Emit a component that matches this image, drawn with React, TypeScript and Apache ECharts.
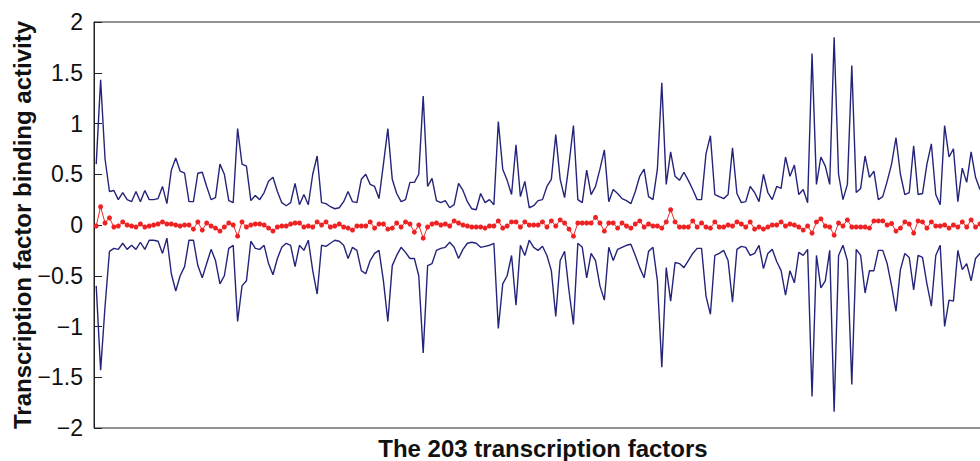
import React, { useEffect, useRef } from "react";
import * as echarts from "echarts";

// Upper envelope (blue), factor 1..203
const upperValues: number[] = [
  0.6, 1.43, 0.65, 0.33, 0.34, 0.25, 0.32, 0.25, 0.23, 0.33,
  0.23, 0.34, 0.25, 0.25, 0.26, 0.38, 0.21, 0.54, 0.66, 0.53,
  0.51, 0.23, 0.23, 0.51, 0.52, 0.38, 0.25, 0.27, 0.6, 0.5,
  0.24, 0.22, 0.95, 0.6, 0.58, 0.24, 0.29, 0.25, 0.32, 0.43,
  0.47, 0.33, 0.22, 0.19, 0.22, 0.41, 0.2, 0.3, 0.2, 0.5,
  0.68, 0.22, 0.21, 0.18, 0.16, 0.17, 0.23, 0.33, 0.23, 0.22,
  0.45, 0.5, 0.4, 0.38, 0.26, 0.6, 0.95, 0.45, 0.31, 0.23,
  0.25, 0.42, 0.42, 0.5, 1.27, 0.38, 0.46, 0.24, 0.22, 0.24,
  0.17, 0.2, 0.41, 0.34, 0.23, 0.16, 0.15, 0.31, 0.22, 0.25,
  0.2, 1.02, 0.55, 0.44, 0.3, 0.79, 0.28, 0.43, 0.17, 0.19,
  0.24, 0.25, 0.38, 0.45, 0.89, 0.45, 0.27, 0.6, 0.98, 0.25,
  0.22, 0.54, 0.3, 0.38, 0.55, 0.74, 0.23, 0.35, 0.31, 0.26,
  0.24, 0.21, 0.33, 0.48, 0.55, 0.28, 0.25, 0.55, 1.4, 0.4,
  0.72, 0.48, 0.44, 0.52, 0.44, 0.35, 0.25, 0.25, 0.7, 0.88,
  0.3, 0.28, 0.26, 0.3, 0.76, 0.31, 0.22, 0.23, 0.38, 0.32,
  0.23, 0.5, 0.32, 0.25, 0.38, 0.36, 0.67, 0.48, 0.59, 0.3,
  0.35, 0.22, 1.69, 0.4, 0.67, 0.58, 0.4, 1.85, 0.5, 0.25,
  0.4, 1.57, 0.32, 0.36, 0.68, 0.47, 0.53, 0.25, 0.28, 0.43,
  0.6, 0.86, 0.5, 0.3, 0.32, 0.78, 0.3, 0.31, 0.6, 0.8,
  0.3, 0.2, 0.98, 0.67, 0.75, 0.23, 0.56, 0.42, 0.72, 0.47,
  0.35, 0.4, 0.3,
];

// Lower envelope (blue)
const lowerValues: number[] = [
  -0.6, -1.43, -0.8, -0.26, -0.23, -0.24, -0.18, -0.24, -0.2, -0.24,
  -0.17, -0.24, -0.15, -0.15, -0.16, -0.28, -0.13, -0.48, -0.65, -0.5,
  -0.41, -0.15, -0.15, -0.4, -0.52, -0.38, -0.24, -0.35, -0.58, -0.5,
  -0.23, -0.2, -0.95, -0.6, -0.55, -0.16, -0.23, -0.24, -0.2, -0.38,
  -0.49, -0.33, -0.22, -0.18, -0.2, -0.41, -0.2, -0.25, -0.15, -0.45,
  -0.68, -0.2, -0.21, -0.18, -0.15, -0.16, -0.2, -0.33, -0.22, -0.25,
  -0.45, -0.48, -0.35, -0.28, -0.25, -0.55, -0.95, -0.4, -0.3, -0.22,
  -0.27, -0.33, -0.33, -0.5, -1.26, -0.4, -0.38, -0.25, -0.23, -0.22,
  -0.17, -0.22, -0.33, -0.24, -0.18, -0.17, -0.18, -0.22, -0.21, -0.2,
  -0.18, -1.02, -0.58, -0.5, -0.3, -0.79, -0.2, -0.3, -0.15, -0.22,
  -0.25, -0.21, -0.3, -0.45, -0.9, -0.35, -0.26, -0.65, -0.98, -0.18,
  -0.22, -0.52, -0.28, -0.35, -0.6, -0.74, -0.22, -0.35, -0.24, -0.22,
  -0.2, -0.19, -0.3, -0.42, -0.52, -0.26, -0.22, -0.55, -1.4, -0.42,
  -0.75, -0.37, -0.38, -0.42, -0.35, -0.28, -0.23, -0.23, -0.7, -0.88,
  -0.3, -0.28, -0.25, -0.35, -0.76, -0.24, -0.21, -0.22, -0.3, -0.28,
  -0.2, -0.43, -0.28, -0.24, -0.36, -0.45, -0.69, -0.45, -0.57, -0.27,
  -0.3, -0.24, -1.69, -0.3, -0.62, -0.55, -0.25, -1.84, -0.3, -0.2,
  -0.35, -1.57, -0.24, -0.3, -0.67, -0.45, -0.45, -0.25, -0.25, -0.38,
  -0.6, -0.85, -0.44, -0.28, -0.32, -0.64, -0.3, -0.32, -0.58, -0.8,
  -0.3, -0.2, -1.0, -0.74, -0.75, -0.25, -0.44, -0.38, -0.55, -0.33,
  -0.28, -0.35, -0.3,
];

// Mean activity (red)
const meanValues: number[] = [
  -0.01, 0.18, 0.02, 0.07, -0.02, -0.01, 0.03, 0.0, -0.01, -0.02,
  0.01, -0.02, -0.01, 0.0, 0.01, 0.03, 0.01, 0.01, 0.0, -0.01,
  0.0, 0.0, -0.04, 0.03, -0.05, 0.02, -0.01, -0.03, -0.06, -0.02,
  0.02, 0.0, -0.11, 0.03, -0.02, 0.0, 0.01, 0.01, 0.0, -0.03,
  -0.06, -0.02, -0.01, -0.01, 0.01, 0.02, 0.02, -0.02, -0.01, -0.02,
  0.03, 0.0, 0.03, -0.02, -0.01, 0.01, -0.02, -0.03, -0.05, -0.01,
  -0.01, -0.01, 0.03, -0.03, 0.01, 0.01, -0.04, -0.03, 0.02, -0.02,
  0.03, 0.01, -0.07, 0.0, -0.13, -0.02, 0.01, 0.02, 0.0, 0.01,
  -0.01, 0.04, 0.02, 0.0, -0.01, -0.02, -0.02, -0.02, -0.03, -0.01,
  -0.01, 0.04, -0.03, -0.01, 0.03, 0.03, -0.02, 0.03, 0.0, 0.0,
  0.0, 0.03, -0.02, 0.04, -0.01, 0.05, 0.02, -0.04, -0.11, 0.02,
  0.02, 0.02, 0.02, 0.075, 0.02, -0.06, 0.02, 0.02, -0.03, 0.02,
  -0.01, -0.03, 0.01, 0.04, -0.02, 0.01, -0.01, -0.01, -0.03, 0.03,
  0.15, 0.03, -0.02, -0.02, -0.02, 0.04, -0.02, 0.02, -0.02, -0.03,
  0.03, -0.02, -0.02, 0.0, -0.01, 0.03, 0.01, -0.02, 0.03, -0.04,
  -0.02, -0.04, -0.02, 0.0, 0.0, 0.03, -0.01, 0.01, 0.0, -0.02,
  -0.05, -0.01, -0.08, 0.03, 0.06, -0.01, -0.02, -0.1, 0.02, -0.01,
  0.05, -0.02, -0.02, -0.02, -0.02, -0.03, 0.04, 0.04, 0.04, 0.0,
  0.015, -0.06, -0.03, 0.03, 0.01, -0.08, 0.04, 0.03, -0.03, 0.03,
  -0.01, -0.01, 0.0, -0.03, 0.0, -0.02, 0.03, -0.02, 0.05, -0.02,
  0.01, 0.0, -0.01,
];

const yTicks: number[] = [-2, -1.5, -1, -0.5, 0, 0.5, 1, 1.5, 2];
const yTitle = "Transcription factor binding activity";
const xTitle = "The 203 transcription factors";

const FONT = "'Liberation Sans', Arial, Helvetica, sans-serif";

export default function App() {
  const ref = useRef<HTMLDivElement>(null);

  useEffect(() => {
    if (!ref.current) return;
    const chart = echarts.init(ref.current, undefined, { renderer: "svg" });
    const toPairs = (arr: number[]) => arr.map((v, i) => [i + 1, v]);
    const blue = "#24247a";
    chart.setOption({
      animation: false,
      backgroundColor: "#ffffff",
      grid: {
        left: 94,
        top: 22,
        width: 897,
        height: 406,
        show: true,
        borderColor: "#222",
        borderWidth: 1,
        backgroundColor: "transparent",
      },
      xAxis: {
        type: "value",
        min: 0.5,
        max: 203.5,
        axisLine: { show: false },
        axisTick: { show: false },
        axisLabel: { show: false },
        splitLine: { show: false },
      },
      yAxis: {
        type: "value",
        min: yTicks[0],
        max: yTicks[yTicks.length - 1],
        interval: 0.5,
        axisLine: { show: true, lineStyle: { color: "#222", width: 1 } },
        axisTick: { show: true, inside: true, length: 8, lineStyle: { color: "#222" } },
        axisLabel: {
          fontFamily: FONT,
          fontSize: 23,
          color: "#111",
          margin: 11,
          formatter: (v: number) => String(v).replace("-", "\u2212"),
        },
        splitLine: { show: false },
      },
      graphic: [
        {
          type: "text",
          x: 22,
          y: 225,
          rotation: Math.PI / 2,
          style: {
            text: yTitle,
            fontFamily: FONT,
            fontSize: 24,
            fontWeight: "bold",
            fill: "#111",
            textAlign: "center",
            textVerticalAlign: "middle",
          },
        },
        {
          type: "text",
          x: 543,
          y: 448,
          style: {
            text: xTitle,
            fontFamily: FONT,
            fontSize: 24,
            fontWeight: "bold",
            fill: "#111",
            textAlign: "center",
            textVerticalAlign: "middle",
          },
        },
      ],
      series: [
        {
          type: "line",
          data: toPairs(upperValues),
          showSymbol: false,
          lineStyle: { color: blue, width: 1.4 },
          z: 2,
        },
        {
          type: "line",
          data: toPairs(lowerValues),
          showSymbol: false,
          lineStyle: { color: blue, width: 1.4 },
          z: 2,
        },
        {
          type: "line",
          data: toPairs(meanValues),
          symbol: "circle",
          symbolSize: 5,
          showSymbol: true,
          lineStyle: { color: "#ee2a2a", width: 1 },
          itemStyle: { color: "#ee2222" },
          z: 3,
        },
      ],
    });
    return () => chart.dispose();
  }, []);

  return (
    <div
      style={{
        position: "absolute",
        left: 0,
        top: 0,
        width: 980,
        height: 461,
        overflow: "hidden",
        background: "#fff",
      }}
    >
      <div ref={ref} style={{ width: 1000, height: 461 }} />
    </div>
  );
}
